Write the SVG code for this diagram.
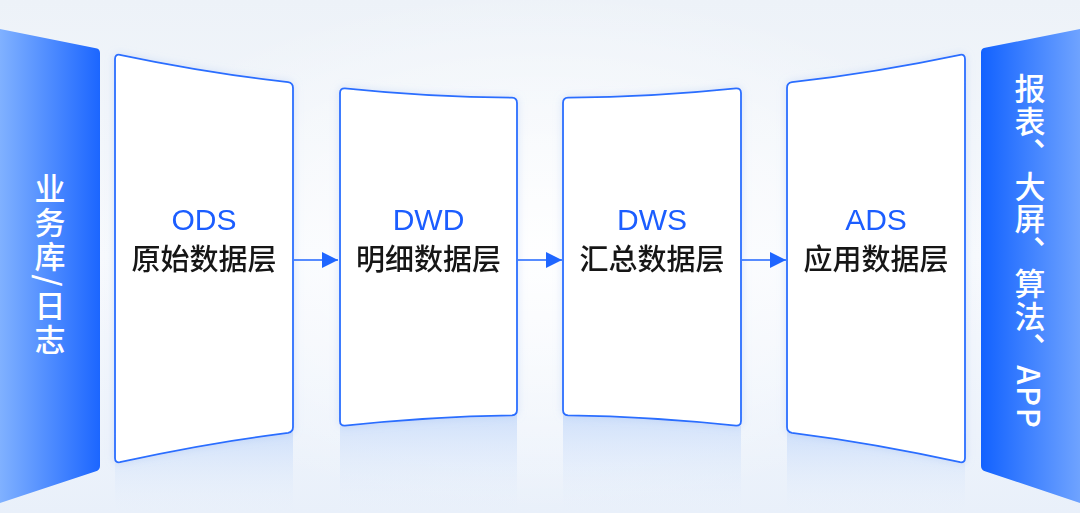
<svg xmlns="http://www.w3.org/2000/svg" width="1080" height="513" viewBox="0 0 1080 513">
  <defs>
    <linearGradient id="bg" x1="0" y1="0" x2="0" y2="1">
      <stop offset="0" stop-color="#edf2f8"/>
      <stop offset="0.5" stop-color="#f6f9fd"/>
      <stop offset="1" stop-color="#e9f0fa"/>
    </linearGradient>
    <radialGradient id="glow" cx="0.5" cy="0.5" r="0.5">
      <stop offset="0" stop-color="#ffffff" stop-opacity="0.9"/>
      <stop offset="1" stop-color="#ffffff" stop-opacity="0"/>
    </radialGradient>
    <linearGradient id="barL" x1="0" y1="0" x2="1" y2="0">
      <stop offset="0" stop-color="#80b1ff"/>
      <stop offset="1" stop-color="#1c66ff"/>
    </linearGradient>
    <linearGradient id="barR" x1="0" y1="0" x2="1" y2="0">
      <stop offset="0" stop-color="#1262ff"/>
      <stop offset="1" stop-color="#6fa3ff"/>
    </linearGradient>
    <linearGradient id="refl" x1="0" y1="0" x2="0" y2="1">
      <stop offset="0" stop-color="#c9dcfa" stop-opacity="0.85"/>
      <stop offset="1" stop-color="#e6effc" stop-opacity="0"/>
    </linearGradient>
    <filter id="sh" x="-10%" y="-10%" width="120%" height="120%">
      <feDropShadow dx="0" dy="0" stdDeviation="4" flood-color="#9dbdf2" flood-opacity="0.35"/>
    </filter>
    <marker id="ah" viewBox="0 0 16 16" refX="16" refY="8" markerWidth="16" markerHeight="16" markerUnits="userSpaceOnUse" orient="auto">
      <path d="M0,0 L16,8 L0,16 Z" fill="#1f66ff"/>
    </marker>
  </defs>
  <style>
    .panel { fill: #ffffff; stroke: #2a6eff; stroke-width: 1.8; }
    .refl { fill: url(#refl); }
    .en { font-family: "Liberation Sans", Arial, sans-serif; font-size: 30px; fill: #1a5dff; text-anchor: middle; }
    .zh { font-family: "Noto Sans CJK SC", sans-serif; font-size: 29px; font-weight: 500; fill: #161616; text-anchor: middle; }
    .vt { font-family: "Noto Sans CJK SC", "Liberation Sans", sans-serif; font-size: 31px; font-weight: 500; fill: #ffffff; writing-mode: tb; text-anchor: middle; }
    .conn { stroke: #1f66ff; stroke-width: 1.6; fill: none; }
  </style>

  <rect x="0" y="0" width="1080" height="513" fill="url(#bg)"/>
  <ellipse cx="540" cy="250" rx="480" ry="260" fill="url(#glow)"/>

  <!-- reflections -->
  <g id="reflections">
    <path class="refl" d="M115,463 Q204,443.5 293,432 L293,513 L115,513 Z"/>
    <path class="refl" d="M340,426 Q428,416.5 517,415 L517,513 L340,513 Z"/>
    <path class="refl" d="M563,415 Q652,416.5 741,426 L741,513 L563,513 Z"/>
    <path class="refl" d="M787,432 Q876,443.5 965,463 L965,513 L787,513 Z"/>
  </g>

  <g id="source">
    <path d="M0,29 L96,48.3 Q100,49.1 100,53 L100,466 Q100,470 96,471.2 L0,503 Z" fill="url(#barL)"/>
    <text class="vt" x="50" y="265" letter-spacing="3">业务库/日志</text>
  </g>

  <g id="consumers">
    <path d="M1080,29 L985,47.8 Q981,48.6 981,52.5 L981,466 Q981,470 985,471.2 L1080,503 Z" fill="url(#barR)"/>
    <text class="vt" x="1030" y="251" letter-spacing="1.5">报表、大屏、算法、APP</text>
  </g>

  <g id="ods" filter="url(#sh)">
    <path class="panel" d="M115,59 Q115,54 119.9,54.8 Q204,72.5 288.1,82.2 Q293,83 293,88 L293,427 Q293,432 288.1,432.8 Q204,443.5 119.9,462.2 Q115,463 115,458 Z"/>
    <text class="en" x="204" y="230">ODS</text>
    <text class="zh" x="204" y="270">原始数据层</text>
  </g>

  <g id="dwd" filter="url(#sh)">
    <path class="panel" d="M340,93 Q340,88 345,88.3 Q428.5,97 512,97.7 Q517,98 517,103 L517,410 Q517,415 512,415.3 Q428.5,416.5 345,425.7 Q340,426 340,421 Z"/>
    <text class="en" x="428.5" y="230">DWD</text>
    <text class="zh" x="428.5" y="270">明细数据层</text>
  </g>

  <g id="dws" filter="url(#sh)">
    <path class="panel" d="M563,103 Q563,98 568,97.7 Q652,97 736,88.3 Q741,88 741,93 L741,421 Q741,426 736,425.7 Q652,416.5 568,415.3 Q563,415 563,410 Z"/>
    <text class="en" x="652" y="230">DWS</text>
    <text class="zh" x="652" y="270">汇总数据层</text>
  </g>

  <g id="ads" filter="url(#sh)">
    <path class="panel" d="M787,88 Q787,83 791.9,82.2 Q876,72.5 960.1,54.8 Q965,54 965,59 L965,458 Q965,463 960.1,462.2 Q876,443.5 791.9,432.8 Q787,432 787,427 Z"/>
    <text class="en" x="876" y="230">ADS</text>
    <text class="zh" x="876" y="270">应用数据层</text>
  </g>

  <g id="connectors">
    <line class="conn" x1="294" y1="260" x2="338" y2="260" marker-end="url(#ah)"/>
    <line class="conn" x1="518" y1="260" x2="562" y2="260" marker-end="url(#ah)"/>
    <line class="conn" x1="742" y1="260" x2="786" y2="260" marker-end="url(#ah)"/>
  </g>
</svg>
